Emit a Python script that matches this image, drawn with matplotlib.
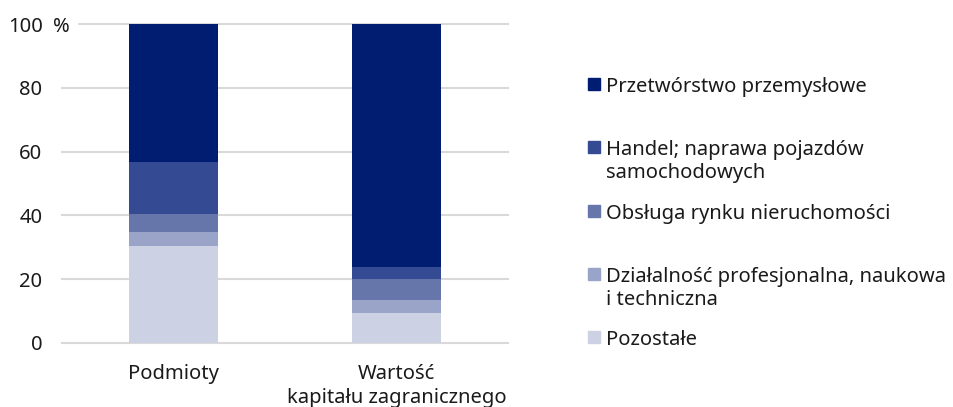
import matplotlib
matplotlib.use('Agg')
import matplotlib.pyplot as plt
from matplotlib.patches import Rectangle
import numpy as np

plt.rcParams['font.family'] = ['Noto Sans', 'DejaVu Sans']

categories = ['Podmioty', 'Wartość\nkapitału zagranicznego']
series = ['Przetwórstwo przemysłowe',
          'Handel; naprawa pojazdów\nsamochodowych',
          'Obsługa rynku nieruchomości',
          'Działalność profesjonalna, naukowa\ni techniczna',
          'Pozostałe']
# values per series, bottom of stack is the last series
przetworstwo = [43.3, 76.1]
handel = [16.2, 4.0]
obsluga = [5.6, 6.5]
dzialalnosc = [4.5, 4.0]
pozostale = [30.4, 9.4]
colors = ['#001d72', '#344a92', '#6676aa', '#99a4c8', '#ccd1e3']

values = [przetworstwo, handel, obsluga, dzialalnosc, pozostale]
fs = 14.5

fig = plt.figure(figsize=(9.54, 4.07), dpi=100)
ax = fig.add_axes([62/954, 64.3/407, 446/954, 318.4/407])

x = np.arange(len(categories))
bottom = np.zeros(len(categories))
# stack from bottom (Pozostałe) upward
for vals, col in zip(values[::-1], colors[::-1]):
    ax.bar(x, vals, 0.40, bottom=bottom, color=col, zorder=3)
    bottom += np.array(vals)

ax.set_xlim(-0.5, 1.5)
ax.set_ylim(0, 100)
ax.set_yticks([0, 20, 40, 60, 80, 100])
ax.set_xticks(x)
ax.set_xticklabels(categories, linespacing=1.3)
ax.tick_params(axis='both', length=0, labelsize=fs, colors='#1a1a1a')
ax.tick_params(axis='y', pad=14)
ax.tick_params(axis='x', pad=15)
for s in ax.spines.values():
    s.set_visible(False)
ax.yaxis.grid(True, color='#d9d9d9', linewidth=1.5, zorder=0)
ax.set_axisbelow(True)
for gl in ax.get_ygridlines():
    gl.set_clip_on(False)

# the "%" sits on the start of the top gridline
fig.patches.append(Rectangle((50/954, 1 - 32/407), 27/954, 16/407,
                             transform=fig.transFigure, color='white'))
fig.text(61/954, 1 - 24/407, '%', fontsize=fs, color='#1a1a1a', ha='center',
         va='center_baseline', zorder=10)

# legend drawn by hand so the box sits on the first line of each label
for i, (lab, col) in enumerate(zip(series, colors)):
    yc = 84 + i * 63.3
    fig.patches.append(Rectangle((588/954, 1 - (yc + 6)/407), 12/954, 12/407,
                                 transform=fig.transFigure, color=col))
    fig.text(606/954, 1 - (yc - 7)/407, lab, fontsize=fs, color='#1a1a1a',
             ha='left', va='top', linespacing=1.2)

fig.savefig('out.png', dpi=100)
